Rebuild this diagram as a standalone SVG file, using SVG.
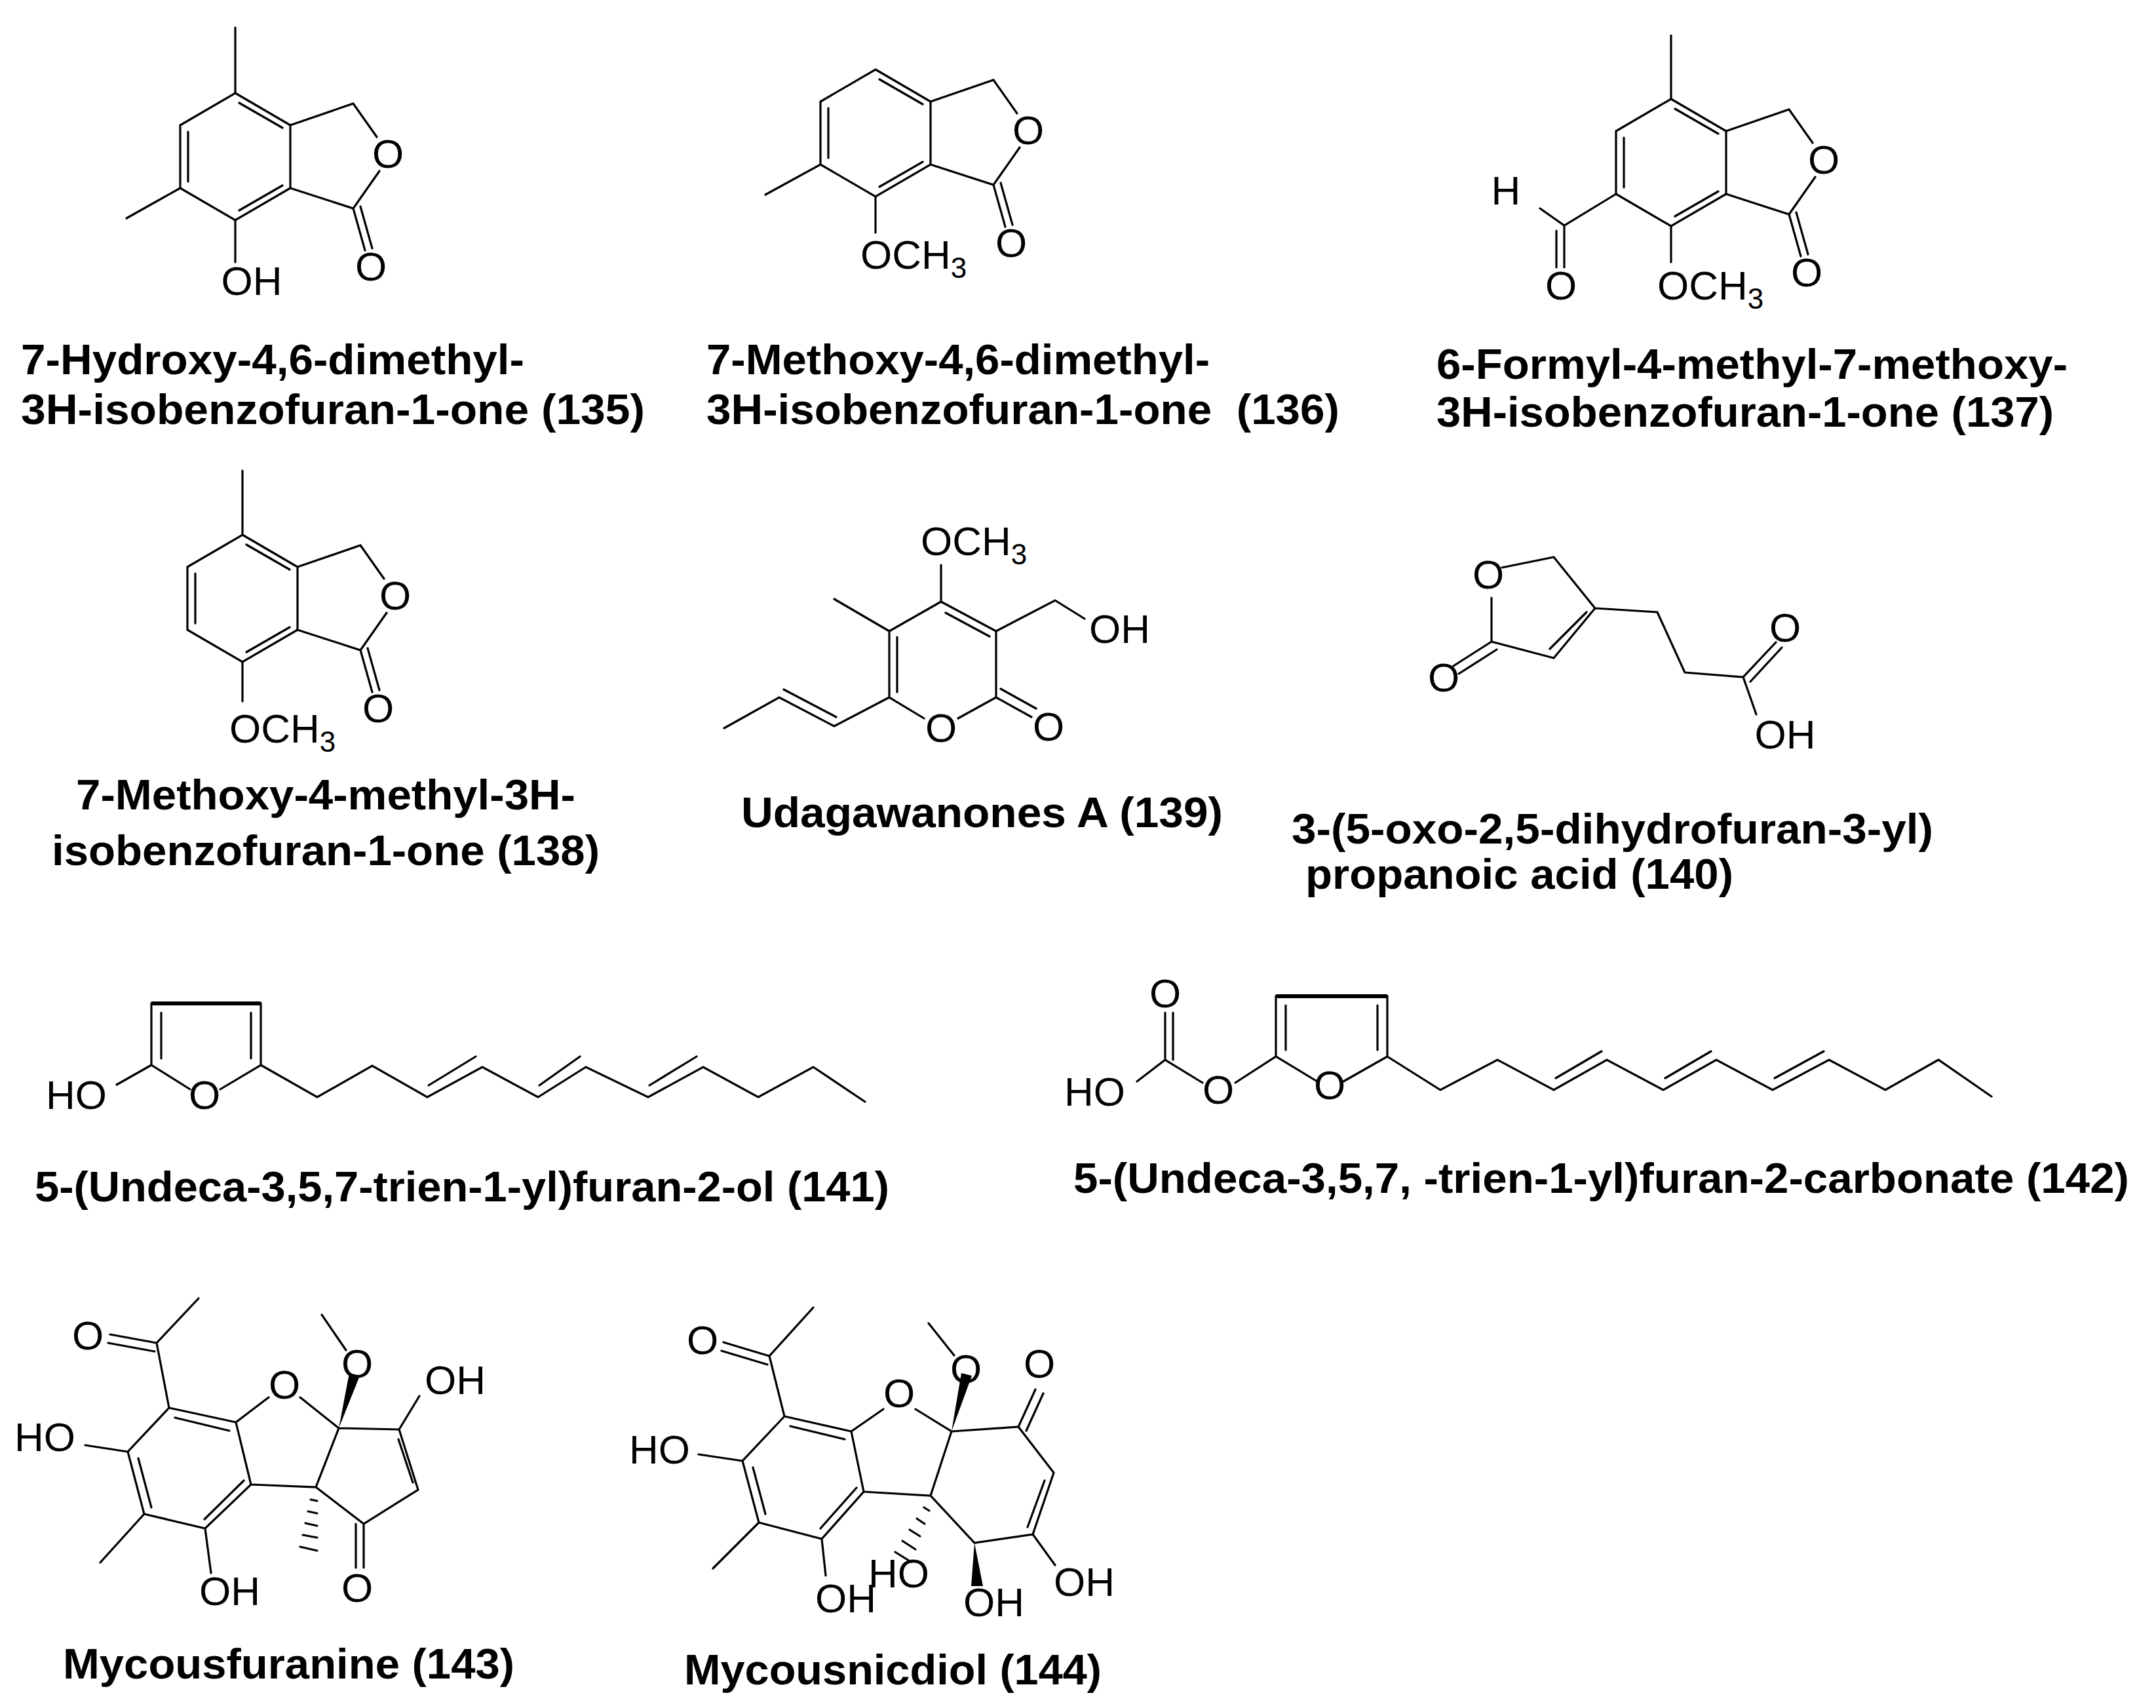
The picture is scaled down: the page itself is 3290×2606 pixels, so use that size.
<svg xmlns="http://www.w3.org/2000/svg" xmlns:xlink="http://www.w3.org/1999/xlink" width="3290" height="2606" viewBox="0 0 3290 2606">
<style>
.b{stroke:#000;stroke-width:3.2;fill:none;stroke-linecap:round}
.a{font-family:"Liberation Sans",Arial,sans-serif;font-size:62px;text-anchor:middle;fill:#000}
.as{font-family:"Liberation Sans",Arial,sans-serif;font-size:62px;fill:#000}
.c{font-family:"Liberation Sans",Arial,sans-serif;font-size:64px;font-weight:bold;fill:#000}
</style>
<defs>
<g id="ibf">
<polygon class="b" points="0,-97 84,-48 84,48 0,97 -84,48 -84,-48"/>
<path class="b" d="M6,-82L72,-44M72,44L6,82M-72,38L-72,-38M84,-48L180,-81L216,-30M220,22L180,79L84,48M180,79L198,143M191,76L209,140"/>
<text class="a" x="233" y="17">O</text>
<text class="a" x="207" y="189">O</text>
</g>
</defs>
<rect width="3290" height="2606" fill="#fff"/>

<g id="m135">
<use xlink:href="#ibf" href="#ibf" x="359" y="239"/>
<path class="b" d="M359,142L359,42M275,287L193,333M359,336L359,400"/>
<text class="a" x="384" y="450">OH</text>
<text class="c" x="32" y="571" textLength="768" lengthAdjust="spacingAndGlyphs">7-Hydroxy-4,6-dimethyl-</text>
<text class="c" x="32" y="647" textLength="952" lengthAdjust="spacingAndGlyphs">3H-isobenzofuran-1-one (135)</text>
</g>

<g id="m136">
<use xlink:href="#ibf" href="#ibf" x="1336" y="203"/>
<path class="b" d="M1252,251L1168,297M1336,300L1336,355"/>
<text class="as" x="1313" y="410">OCH<tspan dy="14" font-size="44">3</tspan></text>
<text class="c" x="1078" y="571" textLength="768" lengthAdjust="spacingAndGlyphs">7-Methoxy-4,6-dimethyl-</text>
<text class="c" x="1078" y="647" textLength="966" lengthAdjust="spacingAndGlyphs" xml:space="preserve">3H-isobenzofuran-1-one  (136)</text>
</g>

<g id="m137">
<use xlink:href="#ibf" href="#ibf" x="2550" y="248"/>
<path class="b" d="M2550,151L2550,54M2466,296L2387,344L2350,318M2387,344L2387,408M2375,352L2375,408M2550,345L2550,400"/>
<text class="a" x="2298" y="312">H</text>
<text class="a" x="2382" y="457">O</text>
<text class="as" x="2529" y="457">OCH<tspan dy="14" font-size="44">3</tspan></text>
<text class="c" x="2192" y="578" textLength="963" lengthAdjust="spacingAndGlyphs">6-Formyl-4-methyl-7-methoxy-</text>
<text class="c" x="2192" y="651" textLength="942" lengthAdjust="spacingAndGlyphs">3H-isobenzofuran-1-one (137)</text>
</g>

<g id="m138">
<use xlink:href="#ibf" href="#ibf" x="370" y="913"/>
<path class="b" d="M370,816L370,718M370,1010L370,1070"/>
<text class="as" x="350" y="1133">OCH<tspan dy="14" font-size="44">3</tspan></text>
<text class="c" x="116" y="1235" textLength="762" lengthAdjust="spacingAndGlyphs">7-Methoxy-4-methyl-3H-</text>
<text class="c" x="79" y="1320" textLength="836" lengthAdjust="spacingAndGlyphs">isobenzofuran-1-one (138)</text>
</g>

<g id="m139">
<path class="b" d="M1436,918L1520,963L1520,1064L1462,1096M1410,1096L1357,1064L1357,963L1436,918M1436,918L1436,862M1357,963L1273,914M1443,935L1510,971M1369,972L1369,1056M1357,1064L1273,1108L1189,1064L1105,1111M1276,1094L1196,1052M1520,1064L1574,1094M1527,1051L1581,1081M1520,963L1610,916L1655,944"/>
<text class="as" x="1405" y="847">OCH<tspan dy="14" font-size="44">3</tspan></text>
<text class="a" x="1436" y="1132">O</text>
<text class="a" x="1600" y="1130">O</text>
<text class="as" x="1662" y="981">OH</text>
<text class="c" x="1131" y="1262" textLength="735" lengthAdjust="spacingAndGlyphs">Udagawanones A (139)</text>
</g>

<g id="m140">
<path class="b" d="M2292,866L2371,850L2434,928L2371,1004L2276,979L2276,912M2421,934L2365,990M2276,979L2218,1016M2284,991L2226,1028M2434,928L2529,934L2571,1026L2660,1033L2710,980M2671,1040L2719,988M2660,1033L2680,1090"/>
<text class="a" x="2271" y="898">O</text>
<text class="a" x="2203" y="1055">O</text>
<text class="a" x="2724" y="979">O</text>
<text class="a" x="2724" y="1142">OH</text>
<text class="c" x="1971" y="1287" textLength="979" lengthAdjust="spacingAndGlyphs">3-(5-oxo-2,5-dihydrofuran-3-yl)</text>
<text class="c" x="1992" y="1356" textLength="653" lengthAdjust="spacingAndGlyphs">propanoic acid (140)</text>
</g>

<g id="m141">
<path class="b" d="M231,1625L231,1531L398,1531L398,1625L336,1662M231,1625L290,1662M246,1545L246,1615M383,1545L383,1615M231,1625L178,1655M398,1625L484,1674L568,1626L652,1674L736,1628L821,1674L894,1628L989,1674L1073,1628L1157,1674L1241,1628L1320,1681M654,1656L726,1612M823,1656L885,1612M991,1656L1063,1612"/>
<path d="M231,1531L398,1531" stroke="#000" stroke-width="6"/>
<text class="a" x="312" y="1692">O</text>
<text class="as" x="70" y="1692">HO</text>
<text class="c" x="53" y="1833" textLength="1304" lengthAdjust="spacingAndGlyphs">5-(Undeca-3,5,7-trien-1-yl)furan-2-ol (141)</text>
</g>

<g id="m142">
<path class="b" d="M1778,1545L1778,1617M1790,1545L1790,1617M1778,1617L1735,1650M1778,1617L1835,1652M1885,1652L1947,1612L2010,1650M1947,1612L1947,1520L2117,1520L2117,1612L2050,1650M1962,1534L1962,1602M2102,1534L2102,1602M2117,1612L2198,1663L2285,1617L2371,1663L2452,1617L2538,1663L2619,1617L2705,1663L2791,1617L2877,1663L2958,1617L3039,1673M2374,1645L2444,1604M2541,1645L2611,1604M2708,1645L2783,1604"/>
<path d="M1947,1520L2117,1520" stroke="#000" stroke-width="6"/>
<text class="a" x="1778" y="1537">O</text>
<text class="a" x="1859" y="1684">O</text>
<text class="a" x="2029" y="1677">O</text>
<text class="as" x="1624" y="1687">HO</text>
<text class="c" x="1638" y="1820" textLength="1611" lengthAdjust="spacingAndGlyphs">5-(Undeca-3,5,7, -trien-1-yl)furan-2-carbonate (142)</text>
</g>

<g id="m143">
<path class="b" d="M303,1981L239,2049L258,2148L360,2170L383,2265L313,2332L220,2310L195,2215L258,2148M239,2049L168,2036M236,2062L165,2049M267,2163L350,2183M211,2225L231,2300M372,2259L312,2318M195,2215L130,2205M220,2310L153,2384M313,2332L322,2400M360,2170L410,2132M458,2132L517,2179L482,2269L383,2265M517,2179L609,2181L638,2273L555,2325L482,2269M608,2196L630,2262M609,2181L640,2130M555,2325L555,2392M543,2325L543,2392M528,2060L491,2006"/>
<polygon points="517,2179 533,2095 549,2099" fill="#000"/>
<path class="b" d="M474,2288L484,2290M470,2306L484,2309M466,2324L484,2328M462,2342L484,2346M458,2360L484,2366"/>
<text class="a" x="134" y="2059">O</text>
<text class="a" x="434" y="2134">O</text>
<text class="a" x="545" y="2102">O</text>
<text class="as" x="22" y="2214">HO</text>
<text class="as" x="304" y="2449">OH</text>
<text class="as" x="648" y="2127">OH</text>
<text class="a" x="545" y="2444">O</text>
<text class="c" x="96" y="2561" textLength="689" lengthAdjust="spacingAndGlyphs">Mycousfuranine (143)</text>
</g>

<g id="m144">
<path class="b" d="M1241,1995L1174,2069L1197,2161L1299,2184L1318,2276L1254,2348L1158,2323L1133,2229L1197,2161M1174,2069L1104,2048M1171,2082L1101,2061M1206,2176L1289,2196M1149,2239L1168,2310M1307,2270L1252,2332M1133,2229L1066,2219M1158,2323L1088,2393M1254,2348L1260,2404M1299,2184L1348,2150M1397,2150L1452,2184L1420,2282L1318,2276M1452,2184L1554,2177L1608,2247L1576,2341L1487,2354L1420,2282M1554,2177L1580,2120M1566,2183L1592,2126M1594,2259L1568,2330M1576,2341L1610,2388M1456,2068L1417,2019"/>
<polygon points="1452,2184 1467,2095 1483,2099" fill="#000"/>
<polygon points="1487,2354 1482,2420 1500,2420" fill="#000"/>
<path class="b" d="M1410,2300L1418,2305M1399,2317L1411,2325M1388,2334L1404,2344M1377,2351L1397,2364M1366,2368L1390,2383"/>
<text class="a" x="1072" y="2066">O</text>
<text class="a" x="1372" y="2147">O</text>
<text class="a" x="1474" y="2110">O</text>
<text class="a" x="1586" y="2102">O</text>
<text class="as" x="960" y="2233">HO</text>
<text class="as" x="1244" y="2460">OH</text>
<text class="as" x="1325" y="2422">HO</text>
<text class="as" x="1470" y="2466">OH</text>
<text class="as" x="1608" y="2435">OH</text>
<text class="c" x="1044" y="2570" textLength="637" lengthAdjust="spacingAndGlyphs">Mycousnicdiol (144)</text>
</g>

<g id="connectors"></g>
</svg>
